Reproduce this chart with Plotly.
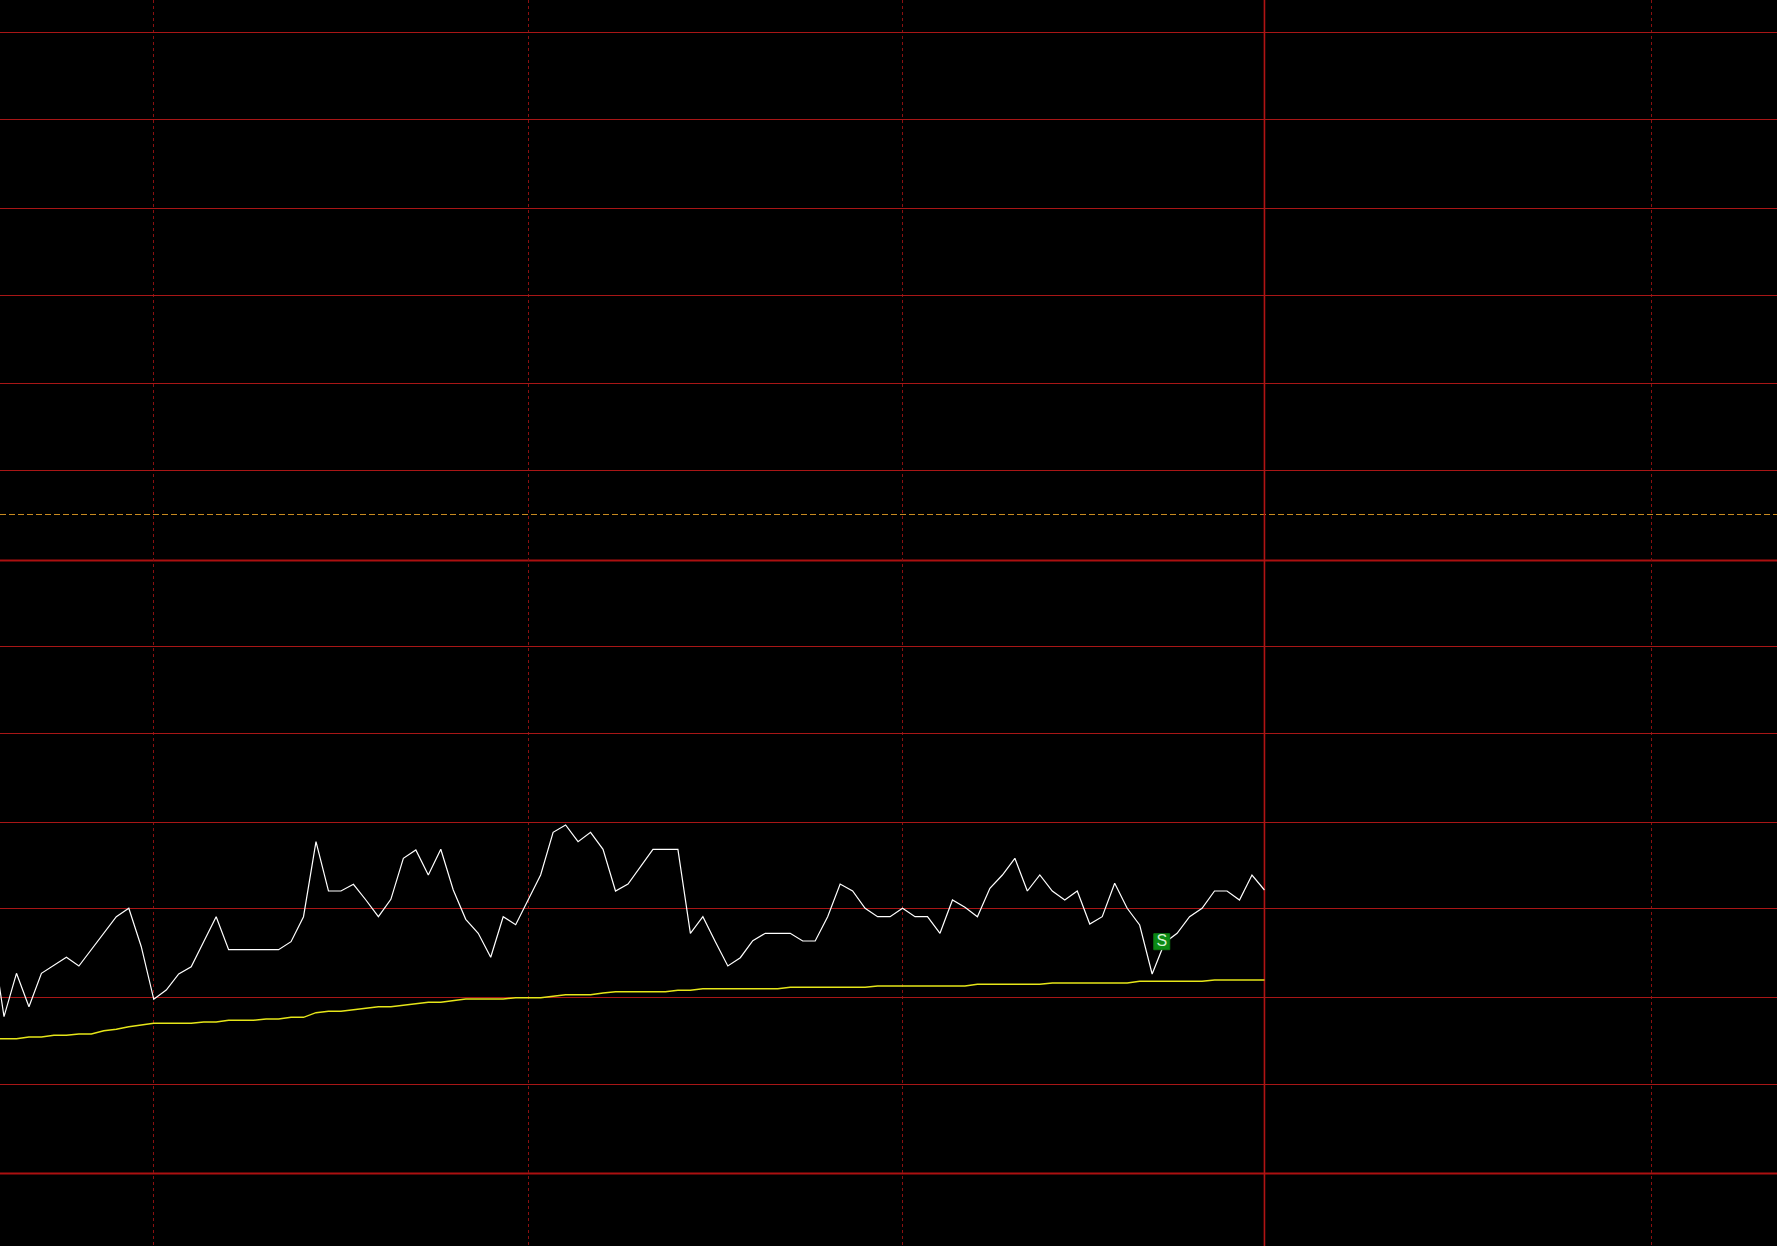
import plotly.graph_objects as go

bars = list(range(-1, 102))
close = [312.7, 229.3, 272.7, 239.3, 272.7, 280.3, 288.7, 280, 296.7, 313.3, 329.3, 337.7, 299.3, 246.7, 256, 272, 279.3, 304.3, 329.3,
         296.3, 296.3, 296.3, 296.3, 296.3, 304.3, 329.3, 404.3, 355, 355, 361.7, 346, 329.3, 346.7, 387.7, 396, 371, 396.7,
         356, 326.7, 312.7, 288.7, 329.3, 321.3, 346, 371, 413.7, 421, 404.3, 413.7, 396.7, 355, 362, 379.3, 396.7, 396.7, 396.7,
         312.7, 329.3, 304.3, 280, 288.3, 305.3, 312.7, 312.7, 312.7, 305, 305, 329.3, 362, 355, 337.7, 329.3,
         329.3, 337.7, 329.3, 329.3, 312.7, 346, 338.7, 329.3, 357.7, 371, 387.7, 355, 371, 355, 346, 355, 322, 329.3, 362.7,
         337.7, 321, 272, 303.3, 312.7, 329.3, 337.7, 355, 355, 346, 371, 356]
average = [207.3, 207.3, 207.3, 209, 209, 210.7, 210.7, 212, 212, 215.3, 216.7, 219.3, 220.7, 222.7, 222.7, 222.7, 222.7, 224, 224,
           225.7, 225.7, 225.7, 227, 227, 228.7, 228.7, 233.3, 234.7, 234.7, 236, 237.7, 239.3, 239.3, 240.7, 242.3, 243.7, 243.7,
           245.3, 247, 247, 247, 247, 248.3, 248.3, 248.3, 249.7, 251.3, 251.3, 251.3, 253, 254.3, 254.3, 254.3, 254.3, 254.3, 255.7,
           255.7, 257.3, 257.3, 257.3, 257.3, 257.3, 257.3, 257.3, 258.7, 258.7, 258.7, 258.7, 258.7, 258.7, 258.7, 260,
           260, 260, 260, 260, 260, 260, 260, 261.7, 261.7, 261.7, 261.7, 261.7, 261.7, 263, 263, 263, 263, 263, 263,
           263, 264.7, 264.7, 264.7, 264.7, 264.7, 264.7, 266, 266, 266, 266, 266]
grid_levels = [1213.5, 1126.5, 1038, 950.5, 862.5, 775.5, 599.5, 512.5, 423.5, 337.5, 248.5, 161.5]
strong_levels = [685.5, 72.5]
reference_level = 731.5
time_ticks = [12, 42, 72, 132]
current_bar = 101
signal_bar = [92.77]
signal_value = [304.3]
signal_text = ["S"]

fig = go.Figure()
fig.add_trace(go.Scatter(x=bars, y=average, mode="lines", line=dict(color="#e6e619", width=1.4), hoverinfo="skip"))
fig.add_trace(go.Scatter(x=bars, y=close, mode="lines", line=dict(color="#ffffff", width=1.2), hoverinfo="skip"))
fig.add_trace(go.Scatter(x=signal_bar, y=signal_value, mode="markers+text", text=signal_text,
                         textposition="middle center",
                         textfont=dict(family="Liberation Sans", size=16, color="#d5f2d5"),
                         marker=dict(symbol="square", size=16, color="#0b8a14",
                                     line=dict(color="#0b7a12", width=1)),
                         hoverinfo="skip"))

for lv in strong_levels:
    fig.add_hline(y=lv, line=dict(color="#ac1010", width=2), layer="below")
fig.add_hline(y=reference_level, line=dict(color="#c88a20", width=1, dash="6px,3px"), layer="below")
fig.add_vline(x=current_bar, line=dict(color="#b01414", width=1.6), layer="below")

fig.update_layout(
    width=1777, height=1246, autosize=False, showlegend=False,
    margin=dict(l=0, r=0, t=0, b=0, pad=0),
    paper_bgcolor="#000000", plot_bgcolor="#000000",
    xaxis=dict(range=[-0.3205, 142.07], tickvals=time_ticks, showticklabels=False, ticks="",
               showgrid=True, gridcolor="#8a1010", griddash="dot", gridwidth=1, zeroline=False, showline=False),
    yaxis=dict(range=[0, 1246], tickvals=grid_levels, showticklabels=False, ticks="",
               showgrid=True, gridcolor="#a81616", gridwidth=1, zeroline=False, showline=False),
)
fig.write_html("out.html", config=dict(displayModeBar=False),
               post_script="document.body.style.margin='0';document.body.style.overflow='hidden';document.body.style.background='#000';")
